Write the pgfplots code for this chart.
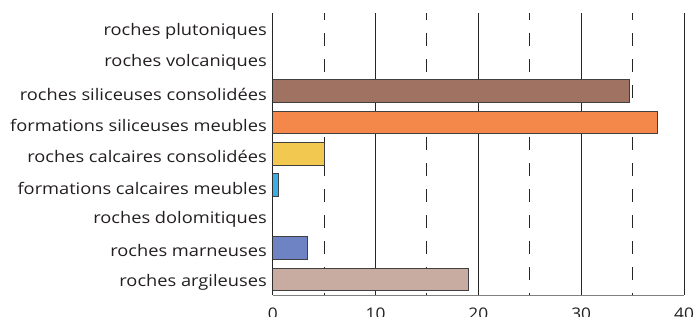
\documentclass[border=0pt]{standalone}
\usepackage{pgfplots}
\pgfplotsset{compat=1.18}
\usepackage{fontspec}
\setmainfont{Open Sans}
\definecolor{cBrown}{HTML}{A07262}
\definecolor{cOrange}{HTML}{F4874A}
\definecolor{cYellow}{HTML}{F2C850}
\definecolor{cBlue}{HTML}{3BAEE3}
\definecolor{cMarne}{HTML}{6D83C3}
\definecolor{cArgile}{HTML}{C8ACA2}
\definecolor{cText}{HTML}{231F20}
\begin{document}
\begin{tikzpicture}
\begin{axis}[
  name=ax,
  scale only axis,
  width=411.3pt, height=282.3pt,
  xmin=0, xmax=40, ymin=-0.5, ymax=8.5,
  xbar, bar shift=0pt, bar width=22.7pt,
  axis x line*=bottom, axis y line*=left,
  x axis line style={-, draw=black!50, line width=0.9pt},
  y axis line style={-, draw=black!85, line width=0.9pt},
  xtick={0,10,20,30,40},
  minor xtick={5,15,25,35},
  ytick={0,...,8},
  yticklabels={roches argileuses, roches marneuses, roches dolomitiques, formations calcaires meubles, roches calcaires consolidées, formations siliceuses meubles, roches siliceuses consolidées, roches volcaniques, roches plutoniques},
  major tick length=0pt, minor tick length=0pt,
  xmajorgrids, xminorgrids,
  major grid style={draw=black!85, line width=0.9pt},
  minor grid style={draw=black!85, line width=0.9pt, dash pattern=on 13pt off 13pt, dash phase=11pt},
  yticklabel style={font=\fontsize{16}{18}\selectfont, text=cText, inner sep=0pt, anchor=east, xscale=1.14, xshift=-5pt, yshift=-3pt},
  xticklabel style={font=\fontsize{16}{18}\selectfont, text=cText, inner sep=0pt, anchor=north, xscale=1.08, yshift=-13pt},
  /pgf/number format/assume math mode=true,
  every axis plot/.append style={draw=black!75, line width=0.8pt},
]
\addplot[fill=cArgile, draw=black!75] coordinates {(19.0,0)};
\addplot[fill=cMarne, draw=black!75] coordinates {(3.4,1)};
\addplot[fill=cBlue, draw=black!75] coordinates {(0.6,3)};
\addplot[fill=cYellow, draw=black!75] coordinates {(5.0,4)};
\addplot[fill=cOrange, draw=black!75] coordinates {(37.4,5)};
\addplot[fill=cBrown, draw=black!75] coordinates {(34.7,6)};
\end{axis}
\pgfresetboundingbox
\path ([xshift=-272.7pt,yshift=-22pt]ax.south west) rectangle ([xshift=11pt,yshift=12.7pt]ax.north east);
\end{tikzpicture}
\end{document}
